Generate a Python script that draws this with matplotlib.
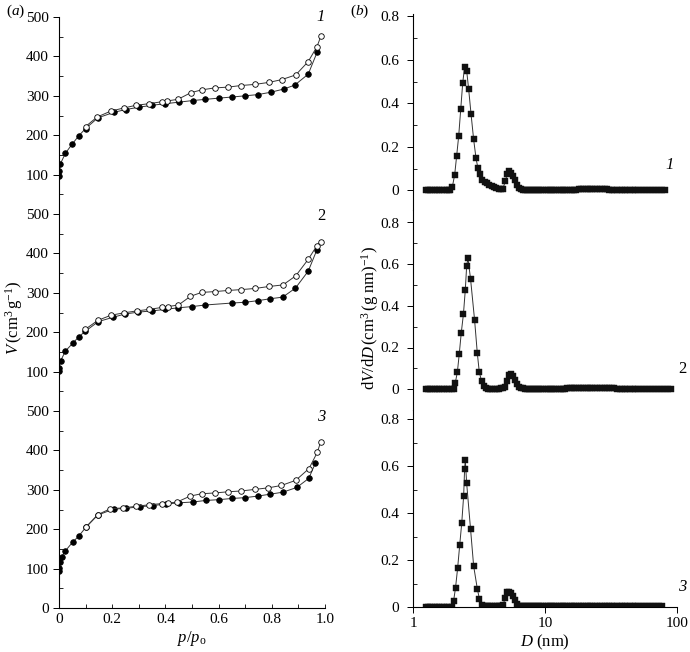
import matplotlib
matplotlib.use("Agg")
import matplotlib.pyplot as plt
from matplotlib.ticker import MultipleLocator, NullLocator, FixedLocator

plt.rcParams['font.family'] = ['Liberation Serif', 'DejaVu Serif']
plt.rcParams['mathtext.fontset'] = 'custom'
plt.rcParams['mathtext.rm'] = 'Liberation Serif'
plt.rcParams['mathtext.it'] = 'Liberation Serif:italic'
plt.rcParams['font.size'] = 11

# ---- (a) isotherms: adsorption (filled) / desorption (open) ----
ads1_p = [0, 0.001, 0.005, 0.024, 0.049, 0.075, 0.10, 0.146, 0.206, 0.25, 0.30, 0.35, 0.40, 0.453,
          0.503, 0.55, 0.60, 0.652, 0.70, 0.747, 0.796, 0.844, 0.886, 0.937, 0.97]
ads1_v = [96, 108, 127, 154, 177, 199, 217, 244, 258, 265, 271, 276, 280, 284,
          288, 291, 294, 297, 300, 303, 309, 317, 327, 355, 410]
des1_p = [0.985, 0.97, 0.937, 0.89, 0.837, 0.789, 0.737, 0.683, 0.635, 0.585, 0.536, 0.496, 0.447,
          0.407, 0.387, 0.339, 0.29, 0.243, 0.194, 0.143, 0.10]
des1_v = [452, 425, 387, 353, 341, 334, 329, 326, 322, 320, 315, 308, 291,
          287, 285, 280, 276, 269, 261, 246, 222]

ads2_p = [0, 0.001, 0.006, 0.024, 0.053, 0.074, 0.098, 0.148, 0.204, 0.247, 0.298, 0.349, 0.40,
          0.449, 0.50, 0.549, 0.65, 0.70, 0.747, 0.795, 0.841, 0.889, 0.937, 0.969]
ads2_v = [101, 110, 127, 152, 173, 188, 202, 227, 238, 246, 251, 254, 258,
          262, 265, 269, 274, 276, 280, 285, 289, 312, 355, 408]
des2_p = [0.984, 0.969, 0.937, 0.89, 0.842, 0.789, 0.737, 0.683, 0.636, 0.585, 0.536, 0.494, 0.449,
          0.408, 0.388, 0.34, 0.292, 0.243, 0.195, 0.146, 0.098]
des2_v = [430, 419, 385, 343, 320, 316, 311, 308, 306, 303, 301, 291, 269,
          265, 263, 258, 254, 249, 243, 230, 207]

ads3_p = [0, 0.001, 0.005, 0.01, 0.024, 0.051, 0.075, 0.101, 0.146, 0.205, 0.252, 0.303, 0.353,
          0.403, 0.452, 0.503, 0.552, 0.602, 0.65, 0.698, 0.747, 0.795, 0.842, 0.894, 0.939, 0.964]
ads3_v = [93, 102, 117, 130, 145, 167, 183, 205, 236, 251, 253, 257, 260,
          264, 267, 269, 273, 275, 278, 280, 284, 289, 294, 306, 329, 368]
des3_p = [0.984, 0.971, 0.94, 0.89, 0.836, 0.787, 0.736, 0.685, 0.636, 0.586, 0.536, 0.493, 0.444,
          0.408, 0.387, 0.339, 0.289, 0.24, 0.193, 0.146, 0.101]
des3_v = [422, 395, 354, 324, 311, 305, 301, 297, 295, 292, 290, 284, 269,
          266, 265, 262, 258, 254, 252, 237, 205]

# ---- (b) pore size distributions ----
flat_d = [1.25, 1.3, 1.35, 1.4, 1.46, 1.52, 1.58, 1.65, 1.72, 1.8, 1.88]
tail_d = [6.8, 7.0, 7.3, 7.5, 7.8, 8.1, 8.4, 8.7, 9.0, 9.4, 9.7, 10.1, 10.5, 10.9, 11.3, 11.7,
          12.2, 12.7, 13.2, 13.7, 14.2, 14.8, 15.4, 16.0, 16.6, 17.3, 18.0, 18.7, 19.5, 20.3,
          21.1, 22.0, 22.9, 23.9, 24.9, 26.0, 27.1, 28.3, 29.5, 30.8, 32.2, 33.6, 35.1, 36.7,
          38.4, 40.2, 42.1, 44.1, 46.2, 48.4, 50.8, 53.3, 56.0, 58.9, 62.0, 65.3, 68.8, 72.5,
          76.5, 80.7, 85.2, 90.0]
tail_y = [0.004, 0.003, 0.003, 0.003, 0.003, 0.003, 0.003, 0.003, 0.003, 0.003, 0.003, 0.003,
          0.003, 0.003, 0.003, 0.003, 0.003, 0.003, 0.003, 0.003, 0.003, 0.004, 0.004, 0.004,
          0.004, 0.004, 0.005, 0.005, 0.005, 0.005, 0.005, 0.005, 0.006, 0.006, 0.006, 0.006,
          0.005, 0.005, 0.005, 0.004, 0.004, 0.004, 0.003, 0.003, 0.003, 0.003, 0.003, 0.003,
          0.003, 0.003, 0.003, 0.003, 0.003, 0.003, 0.003, 0.003, 0.003, 0.003, 0.003, 0.003,
          0.003, 0.003]

psd1_d = [1.92, 1.985, 2.07, 2.14, 2.22, 2.30, 2.38, 2.46, 2.55, 2.64, 2.75, 2.88, 3.0, 3.1,
          3.22, 3.35, 3.49, 3.63, 3.79, 3.94, 4.11, 4.28, 4.46, 4.64, 4.81, 5.0, 5.18, 5.37,
          5.56, 5.76, 5.96, 6.17, 6.39, 6.6]
psd1_y = [0, 0.015, 0.073, 0.157, 0.251, 0.374, 0.493, 0.567, 0.549, 0.465, 0.353, 0.234, 0.149,
          0.103, 0.076, 0.050, 0.040, 0.032, 0.026, 0.020, 0.015, 0.011, 0.008, 0.006, 0.008,
          0.043, 0.076, 0.091, 0.078, 0.065, 0.046, 0.026, 0.011, 0.005]
psd1_max = 82

psd2_d = [1.96, 2.03, 2.09, 2.17, 2.24, 2.32, 2.41, 2.49, 2.55, 2.61, 2.73, 2.93, 3.07, 3.18,
          3.31, 3.43, 3.58, 3.72, 3.86, 4.0, 4.15, 4.3, 4.46, 4.62, 4.78, 4.94, 5.12, 5.31,
          5.52, 5.72, 5.92, 6.14, 6.36, 6.58]
psd2_y = [0, 0.001, 0.029, 0.084, 0.168, 0.27, 0.36, 0.476, 0.592, 0.628, 0.528, 0.33, 0.173,
          0.081, 0.038, 0.013, 0.006, 0.003, 0.003, 0.003, 0.003, 0.003, 0.003, 0.004, 0.005,
          0.01, 0.04, 0.07, 0.075, 0.062, 0.043, 0.024, 0.01, 0.005]
psd2_max = 91

psd3_d = [1.96, 2.03, 2.1, 2.18, 2.26, 2.34, 2.42, 2.46, 2.49, 2.55, 2.73, 2.88, 3.07, 3.18,
          3.31, 3.45, 3.58, 3.72, 3.86, 4.0, 4.15, 4.3, 4.46, 4.64, 4.83, 4.98, 5.15, 5.33,
          5.52, 5.72, 5.92, 6.14, 6.36, 6.58]
psd3_y = [0, 0.026, 0.082, 0.168, 0.266, 0.358, 0.475, 0.588, 0.627, 0.527, 0.331, 0.175, 0.078,
          0.036, 0.009, 0.003, 0.003, 0.003, 0.003, 0.003, 0.003, 0.003, 0.003, 0.004, 0.009,
          0.04, 0.064, 0.064, 0.061, 0.047, 0.028, 0.013, 0.006, 0.004]
psd3_max = 79

iso_sets = [(ads1_p, ads1_v, des1_p, des1_v, '1', 'italic', 480),
            (ads2_p, ads2_v, des2_p, des2_v, '2', 'normal', 475),
            (ads3_p, ads3_v, des3_p, des3_v, '3', 'italic', 465)]
psd_sets = [(psd1_d, psd1_y, psd1_max, '1', 'italic', (-0.09, 0.81), 88, 0.08),
            (psd2_d, psd2_y, psd2_max, '2', 'normal', (-0.1, 0.86), 110, 0.06),
            (psd3_d, psd3_y, psd3_max, '3', 'italic', (0, 0.84), 110, 0.05)]

W, H = 690, 652
fig = plt.figure(figsize=(W / 100, H / 100), dpi=100)

lc = '#333333'
left_rows = [(17, 214), (214, 411), (411, 608)]
for i, (ap, av, dp, dv, lab, sty, ly) in enumerate(iso_sets):
    top, bot = left_rows[i]
    ax = fig.add_axes([59 / W, 1 - bot / H, 266 / W, (bot - top) / H])
    ax.plot(ap, av, '-', color=lc, lw=0.7, marker='o', ms=4, mfc='black', mec='black', mew=0.6)
    ax.plot(dp, dv, '-', color=lc, lw=0.7, marker='o', ms=4, mfc='white', mec='black', mew=0.6)
    ax.set_xlim(0, 1.0)
    ax.set_ylim(0, 500)
    ax.spines['top'].set_visible(False)
    ax.spines['right'].set_visible(False)
    ax.yaxis.set_major_locator(FixedLocator([100, 200, 300, 400, 500] if i < 2 else [0, 100, 200, 300, 400, 500]))
    ax.yaxis.set_minor_locator(MultipleLocator(50))
    ax.tick_params(axis='y', which='major', direction='out', length=4, width=0.7)
    ax.tick_params(axis='y', which='minor', direction='in', length=3, width=0.6)
    if i < 2:
        ax.spines['bottom'].set_visible(False)
        ax.tick_params(axis='x', which='both', bottom=False, labelbottom=False)
    else:
        ax.xaxis.set_major_locator(MultipleLocator(0.2))
        ax.xaxis.set_minor_locator(MultipleLocator(0.1))
        ax.xaxis.set_major_formatter(plt.FuncFormatter(lambda v, p: '0' if v == 0 else '%.1f' % v))
        ax.tick_params(axis='x', which='both', direction='in', length=3, width=0.6)
        ax.set_xlabel(r'$p/p_{\mathrm{o}}$', fontsize=12, labelpad=2)
    for s in ax.spines.values():
        s.set_linewidth(0.8)
    ax.text(0.985, ly, lab, style=sty, fontsize=12, ha='center', va='bottom', clip_on=False)

right_rows = [(14, 210), (210, 410), (410, 607)]
for i, (dd, yy, dmax, lab, sty, ylim, lx, lyy) in enumerate(psd_sets):
    top, bot = right_rows[i]
    ax = fig.add_axes([413 / W, 1 - bot / H, 264 / W, (bot - top) / H])
    xs = flat_d + dd + [d for d in tail_d if d <= dmax]
    ys = [0] * len(flat_d) + yy + [y for d, y in zip(tail_d, tail_y) if d <= dmax]
    ax.plot(xs, ys, '-', color=lc, lw=0.7, marker='s', ms=3.8, mfc='#111111', mec='#111111', mew=0.3)
    ax.set_xscale('log')
    ax.set_xlim(1, 100)
    ax.set_ylim(*ylim)
    ax.spines['top'].set_visible(False)
    ax.spines['right'].set_visible(False)
    ax.yaxis.set_major_locator(FixedLocator([0, 0.2, 0.4, 0.6, 0.8]))
    ax.yaxis.set_major_formatter(plt.FuncFormatter(lambda v, p: '0' if abs(v) < 1e-9 else '%.1f' % v))
    ax.yaxis.set_minor_locator(FixedLocator([0.1, 0.3, 0.5, 0.7]))
    ax.tick_params(axis='y', which='major', direction='out', length=4, width=0.7, pad=6)
    ax.tick_params(axis='y', which='minor', direction='in', length=3, width=0.6)
    if i < 2:
        ax.spines['bottom'].set_visible(False)
        ax.tick_params(axis='x', which='both', bottom=False, labelbottom=False)
    else:
        ax.xaxis.set_major_locator(FixedLocator([1, 10, 100]))
        ax.xaxis.set_major_formatter(plt.FuncFormatter(lambda v, p: '%d' % round(v)))
        ax.xaxis.set_minor_locator(NullLocator())
        ax.tick_params(axis='x', which='major', direction='out', length=4, width=0.7)
        ax.set_xlabel(r'$D\ (\mathrm{nm})$', fontsize=12, labelpad=2)
    for s in ax.spines.values():
        s.set_linewidth(0.8)
    ax.text(lx, lyy, lab, style=sty, fontsize=12, ha='center', va='bottom', clip_on=False)

fig.text(14 / W, 1 - 318 / H, r'$V\,(\mathrm{cm^3\,g^{-1}})$', fontsize=12,
         rotation=90, ha='center', va='center')
fig.text(370 / W, 1 - 318 / H, r'$\mathrm{d}V/\mathrm{d}D\,(\mathrm{cm^3\,(g\ nm)^{-1}})$',
         fontsize=12, rotation=90, ha='center', va='center')
fig.text(6 / W, 1 - 11 / H, r'$(\mathit{a})$', fontsize=11, va='center')
fig.text(350 / W, 1 - 11 / H, r'$(\mathit{b})$', fontsize=11, va='center')

fig.savefig('out.png', dpi=100)
